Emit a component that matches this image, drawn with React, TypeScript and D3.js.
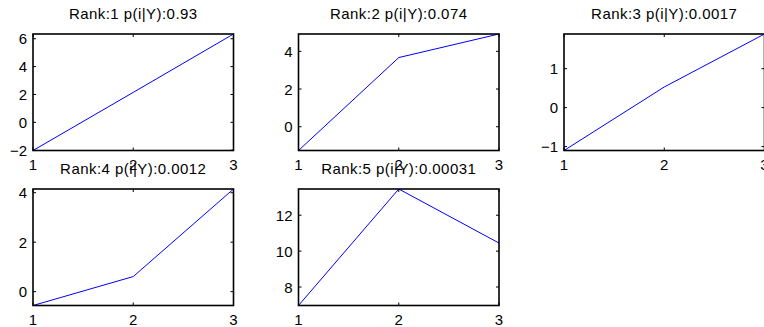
import React from "react";
import * as d3 from "d3";

const xValues = [1, 2, 3];
const xTicks = [1, 2, 3];
const titles = [
  "Rank:1 p(i|Y):0.93",
  "Rank:2 p(i|Y):0.074",
  "Rank:3 p(i|Y):0.0017",
  "Rank:4 p(i|Y):0.0012",
  "Rank:5 p(i|Y):0.00031",
];
const series1 = [-2.02, 2.15, 6.34];
const series2 = [-1.26, 3.67, 4.92];
const series3 = [-1.1, 0.53, 1.89];
const series4 = [-0.56, 0.61, 4.15];
const series5 = [6.97, 13.46, 10.45];
const yTicks1 = [-2, 0, 2, 4, 6];
const yTicks2 = [0, 2, 4];
const yTicks3 = [-1, 0, 1];
const yTicks4 = [0, 2, 4];
const yTicks5 = [8, 10, 12];

const allSeries = [series1, series2, series3, series4, series5];
const allYTicks = [yTicks1, yTicks2, yTicks3, yTicks4, yTicks5];

const panelLefts = [33, 298.5, 564];
const panelTops = [34, 189];
const panelW = 200.5;
const panelH = 116.5;

const FONT = "'Liberation Sans', Arial, Helvetica, sans-serif";

function Panel({ idx }: { idx: number }) {
  const col = idx % 3;
  const row = Math.floor(idx / 3);
  const left = panelLefts[col];
  const top = panelTops[row];
  const data = allSeries[idx];
  const yt = allYTicks[idx];
  const x = d3.scaleLinear().domain([1, 3]).range([left, left + panelW]);
  const y = d3
    .scaleLinear()
    .domain([d3.min(data) as number, d3.max(data) as number])
    .range([top + panelH, top]);
  const line = d3
    .line<number>()
    .x((_, i) => x(xValues[i]))
    .y((d) => y(d));
  const tl = 3;
  return (
    <g>
      <text
        x={left + panelW / 2}
        y={top - 15}
        textAnchor="middle"
        fontFamily={FONT}
        fontSize={15}
        letterSpacing={0.45}
        fill="#000"
      >
        {titles[idx]}
      </text>
      {xTicks.map((t) => (
        <g key={"x" + t}>
          <line x1={x(t)} x2={x(t)} y1={top + panelH} y2={top + panelH - tl} stroke="#000" strokeWidth={1} />
          <line x1={x(t)} x2={x(t)} y1={top} y2={top + tl} stroke="#000" strokeWidth={1} />
          <text
            x={x(t)}
            y={top + panelH + 19.5}
            textAnchor="middle"
            fontFamily={FONT}
            fontSize={15}
            fill="#000"
          >
            {t}
          </text>
        </g>
      ))}
      {yt.map((t) => (
        <g key={"y" + t}>
          <line x1={left} x2={left + tl} y1={y(t)} y2={y(t)} stroke="#000" strokeWidth={1} />
          <line x1={left + panelW} x2={left + panelW - tl} y1={y(t)} y2={y(t)} stroke="#000" strokeWidth={1} />
          <text
            x={left - 6}
            y={y(t) + 5.5}
            textAnchor="end"
            fontFamily={FONT}
            fontSize={15}
            fill="#000"
          >
            {t < 0 ? "\u2212" + Math.abs(t) : String(t)}
          </text>
        </g>
      ))}
      <path d={line(data) || ""} fill="none" stroke="#0000ff" strokeWidth={1} />
      <rect x={left} y={top} width={panelW} height={panelH} fill="none" stroke="#000" strokeWidth={1.6} />
    </g>
  );
}

export default function App() {
  return (
    <svg
      width={764}
      height={327}
      style={{ position: "absolute", left: 0, top: 0, display: "block", background: "#fff" }}
    >
      <rect x={0} y={0} width={764} height={327} fill="#fff" />
      {titles.map((_, i) => (
        <Panel key={i} idx={i} />
      ))}
    </svg>
  );
}
